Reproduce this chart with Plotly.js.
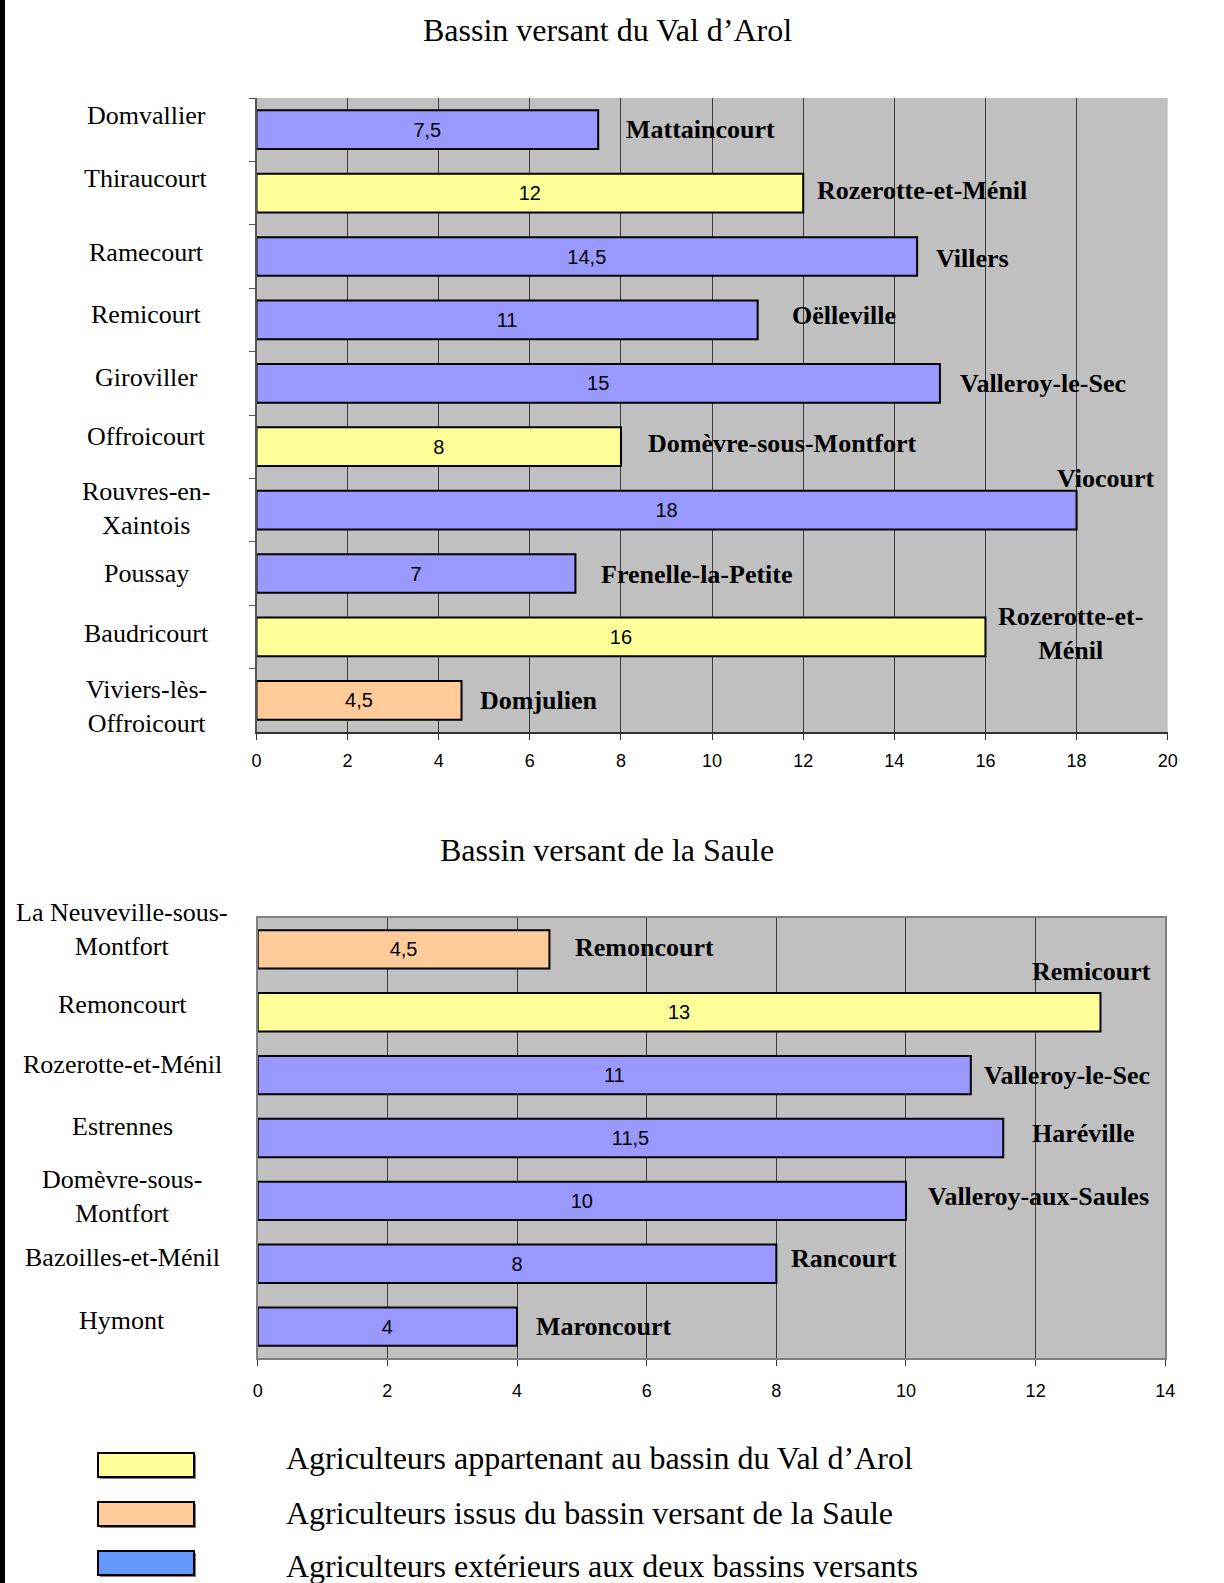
<!DOCTYPE html>
<html>
<head>
<meta charset="utf-8">
<script src="https://cdn.plot.ly/plotly-3.0.1.min.js"></script>
<style>html,body{margin:0;padding:0;background:#fff;}#chart{width:1224px;height:1583px;}</style>
</head>
<body>
<div id="chart"></div>
<script>
// ---------- DATA ----------
const arolTitle = "Bassin versant du Val d’Arol";
const arolCommunes = ["Domvallier","Thiraucourt","Ramecourt","Remicourt","Giroviller","Offroicourt","Rouvres-en-Xaintois","Poussay","Baudricourt","Viviers-lès-Offroicourt"];
const arolLabels = ["Domvallier","Thiraucourt","Ramecourt","Remicourt","Giroviller","Offroicourt","Rouvres-en-<br>Xaintois","Poussay","Baudricourt","Viviers-lès-<br>Offroicourt"];
const arolValues = [7.5, 12, 14.5, 11, 15, 8, 18, 7, 16, 4.5];
const arolGroups = ["ext","val","ext","ext","ext","val","ext","ext","val","saule"];
const arolOrigins = ["Mattaincourt","Rozerotte-et-Ménil","Villers","Oëlleville","Valleroy-le-Sec","Domèvre-sous-Montfort","Viocourt","Frenelle-la-Petite","Rozerotte-et-<br>Ménil","Domjulien"];

const sauleTitle = "Bassin versant de la Saule";
const sauleCommunes = ["La Neuveville-sous-Montfort","Remoncourt","Rozerotte-et-Ménil","Estrennes","Domèvre-sous-Montfort","Bazoilles-et-Ménil","Hymont"];
const sauleLabels = ["La Neuveville-sous-<br>Montfort","Remoncourt","Rozerotte-et-Ménil","Estrennes","Domèvre-sous-<br>Montfort","Bazoilles-et-Ménil","Hymont"];
const sauleValues = [4.5, 13, 11, 11.5, 10, 8, 4];
const sauleGroups = ["saule","val","ext","ext","ext","ext","ext"];
const sauleOrigins = ["Remoncourt","Remicourt","Valleroy-le-Sec","Haréville","Valleroy-aux-Saules","Rancourt","Maroncourt"];

const legendKeys = ["val","saule","ext"];
const legendTexts = ["Agriculteurs appartenant au bassin du Val d’Arol","Agriculteurs issus du bassin versant de la Saule","Agriculteurs extérieurs aux deux bassins versants"];

// ---------- STYLE / PLACEMENT ----------
const barColors = {val:"#FFFF99", saule:"#FFCC99", ext:"#9999FF"};
const legendColors = {val:"#FFFF99", saule:"#FFCC99", ext:"#6699FF"};
const W = 1224, H = 1583;
const px = v => v / W, py = v => 1 - v / H;

// placement of the origin-commune labels: [x (data), anchor, yshift px]
const arolOriginPlace = [[8.06,"left",0],[12.25,"left",3],[14.88,"left",-2],[11.72,"left",4],[15.39,"left",0],[8.55,"left",3],[17.52,"left",32],[7.51,"left",-1],[17.87,"center",3],[4.87,"left",0]];
const sauleOriginPlace = [[4.86,"left",2],[11.91,"left",41],[11.17,"left",0],[11.91,"left",5],[10.31,"left",4],[8.2,"left",5],[4.26,"left",0]];
const arolLabelShift = [14,15,4,5,6,10,2,0,3,-6];
const sauleLabelShift = [20,8,11,12,4,6,6];

const serif = "Liberation Serif, Times New Roman, serif";
const sans = "Liberation Sans, Arial, sans-serif";
const fmt = v => String(v).replace(".", ",");

function barTrace(cats, vals, groups, xa, ya) {
  return {
    type: "bar", orientation: "h", y: cats, x: vals,
    xaxis: xa, yaxis: ya,
    marker: {color: groups.map(g => barColors[g]), line: {color: "#000", width: 2}},
    text: vals.map(fmt), textposition: "inside", insidetextanchor: "middle",
    textfont: {family: sans, size: 20, color: "#000"},
    constraintext: "none", hoverinfo: "skip", cliponaxis: false
  };
}

const traces = [
  barTrace(arolCommunes, arolValues, arolGroups, "x", "y"),
  barTrace(sauleCommunes, sauleValues, sauleGroups, "x2", "y2")
];

const annotations = [];
annotations.push({text: arolTitle, xref: "paper", yref: "paper", x: px(607), y: py(30), xanchor: "center", yanchor: "middle", showarrow: false, font: {family: serif, size: 32, color: "#000"}});
annotations.push({text: sauleTitle, xref: "paper", yref: "paper", x: px(607), y: py(850), xanchor: "center", yanchor: "middle", showarrow: false, font: {family: serif, size: 32, color: "#000"}});

arolCommunes.forEach((c, i) => {
  annotations.push({text: arolLabels[i], xref: "paper", yref: "y", x: px(146), y: c, yshift: arolLabelShift[i], xanchor: "center", yanchor: "middle", align: "center", showarrow: false, font: {family: serif, size: 26, color: "#000"}});
  const p = arolOriginPlace[i];
  annotations.push({text: "<b>" + arolOrigins[i] + "</b>", xref: "x", yref: "y", x: p[0], y: c, yshift: p[2], xanchor: p[1], yanchor: "middle", align: "center", showarrow: false, font: {family: serif, size: 26, color: "#000"}});
});
sauleCommunes.forEach((c, i) => {
  annotations.push({text: sauleLabels[i], xref: "paper", yref: "y2", x: px(122), y: c, yshift: sauleLabelShift[i], xanchor: "center", yanchor: "middle", align: "center", showarrow: false, font: {family: serif, size: 26, color: "#000"}});
  const p = sauleOriginPlace[i];
  annotations.push({text: "<b>" + sauleOrigins[i] + "</b>", xref: "x2", yref: "y2", x: p[0], y: c, yshift: p[2], xanchor: p[1], yanchor: "middle", align: "center", showarrow: false, font: {family: serif, size: 26, color: "#000"}});
});

const shapes = [
  {type: "rect", xref: "paper", yref: "paper", x0: 0, x1: px(5), y0: 0, y1: 1, fillcolor: "#000", line: {width: 0}}
];
const legendBoxTop = [1453, 1502, 1551];
const legendTextY = [1458, 1513, 1566];
legendKeys.forEach((k, i) => {
  const t = legendBoxTop[i];
  shapes.push({type: "rect", xref: "paper", yref: "paper", x0: px(100), x1: px(196), y0: py(t + 26), y1: py(t + 2), fillcolor: "#808080", line: {width: 0}});
  shapes.push({type: "rect", xref: "paper", yref: "paper", x0: px(98), x1: px(194), y0: py(t + 24), y1: py(t), fillcolor: legendColors[k], line: {color: "#000", width: 2}});
  annotations.push({text: legendTexts[i], xref: "paper", yref: "paper", x: px(284), y: py(legendTextY[i]), xanchor: "left", yanchor: "middle", showarrow: false, font: {family: serif, size: 32, color: "#000"}});
});

const gridCol = "#3a3a3a";
const layout = {
  width: W, height: H,
  margin: {l: 0, r: 0, t: 0, b: 0, pad: 0},
  paper_bgcolor: "#fff", plot_bgcolor: "#C0C0C0",
  showlegend: false, bargap: 0.39,
  xaxis: {domain: [px(256.5), px(1167.7)], anchor: "y", range: [0, 20], dtick: 2, tick0: 0,
    showgrid: true, gridcolor: gridCol, gridwidth: 1, zeroline: false,
    showline: true, linecolor: "#333", linewidth: 2,
    ticks: "outside", ticklen: 6, tickcolor: "#333", tickwidth: 1, ticklabelstandoff: 5,
    tickfont: {family: sans, size: 18, color: "#000"}, fixedrange: true},
  yaxis: {domain: [py(732), py(98)], anchor: "x", type: "category", autorange: "reversed",
    showticklabels: false, showgrid: false, zeroline: false,
    showline: true, linecolor: "#555", linewidth: 2,
    ticks: "outside", tickson: "boundaries", ticklen: 6, tickcolor: "#555", tickwidth: 1, fixedrange: true},
  xaxis2: {domain: [px(257.7), px(1165.3)], anchor: "y2", range: [0, 14], dtick: 2, tick0: 0,
    showgrid: true, gridcolor: gridCol, gridwidth: 1, zeroline: false,
    showline: true, mirror: true, linecolor: "#808080", linewidth: 2,
    ticks: "outside", ticklen: 6, tickcolor: "#333", tickwidth: 1, ticklabelstandoff: 9,
    tickfont: {family: sans, size: 18, color: "#000"}, fixedrange: true},
  yaxis2: {domain: [py(1358), py(918)], anchor: "x2", type: "category", autorange: "reversed",
    showticklabels: false, showgrid: false, zeroline: false,
    showline: true, mirror: true, linecolor: "#808080", linewidth: 2,
    ticks: "", fixedrange: true},
  annotations: annotations,
  shapes: shapes
};

Plotly.newPlot("chart", traces, layout, {displayModeBar: false, staticPlot: true});
</script>
</body>
</html>
